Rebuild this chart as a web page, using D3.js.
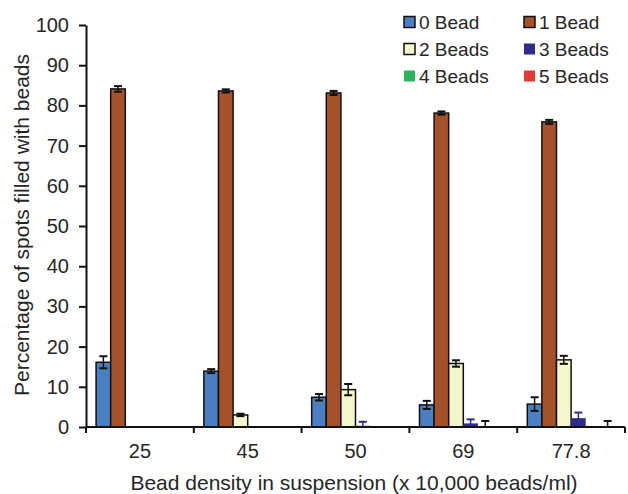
<!DOCTYPE html>
<html><head><meta charset="utf-8">
<script src="https://cdn.jsdelivr.net/npm/d3@7"></script>
<style>body{margin:0;background:#fff}svg{display:block}text{font-family:"Liberation Sans",Arial,sans-serif;fill:#262626}</style>
</head><body><svg id="c" width="628" height="494"></svg>
<script>
const categories = ["25","45","50","69","77.8"];
const seriesNames = ["0 Bead","1 Bead","2 Beads","3 Beads","4 Beads","5 Beads"];
const bead0 = [16.1, 13.9, 7.4, 5.5, 5.7];
const bead1 = [84.1, 83.6, 83.1, 78.1, 75.9];
const bead2 = [0, 3.0, 9.3, 15.8, 16.7];
const bead3 = [0, 0, 0.3, 0.9, 2.2];
const bead4 = [0, 0, 0, 0.1, 0];
const bead5 = [0, 0, 0, 0, 0.1];
const err0 = [1.5, 0.5, 0.8, 1.0, 1.7];
const err1 = [0.7, 0.4, 0.5, 0.4, 0.5];
const err2 = [null, 0.3, 1.4, 0.8, 1.0];
const err3 = [null, null, 1.0, 1.0, 1.4];
const err4 = [null, null, null, 1.4, null];
const err5 = [null, null, null, null, 1.4];
const yTicks = [0,10,20,30,40,50,60,70,80,90,100];
const colors = ["#4a7fc1","#a5522b","#f6f6cc","#2e2d8c","#2db35a","#e53935"];
const stroked = [true,true,true,false,false,false];
const errColors = ["#111","#111","#111","#2e2d8c","#111","#111"];

const values = [bead0,bead1,bead2,bead3,bead4,bead5];
const errs = [err0,err1,err2,err3,err4,err5];

const svg = d3.select("#c");
const x0 = d3.scaleBand().domain(categories).range([86, 625]).padding(0);
const x1 = d3.scaleBand().domain(d3.range(6)).range([0, x0.bandwidth()]).paddingInner(0).paddingOuter(0.69);
const y = d3.scaleLinear().domain([0,100]).range([427, 25]);

// bars
categories.forEach((c, ci) => {
  const g = svg.append("g").attr("transform", `translate(${x0(c)},0)`);
  values.forEach((vals, si) => {
    const v = vals[ci];
    if (v > 0) {
      g.append("rect")
        .attr("x", x1(si)).attr("width", x1.bandwidth())
        .attr("y", y(v)).attr("height", y(0) - y(v))
        .attr("fill", colors[si])
        .attr("stroke", stroked[si] ? "#111" : "none")
        .attr("stroke-width", 1.5);
    }
  });
  errs.forEach((es, si) => {
    const e = es[ci];
    if (e == null) return;
    const v = values[si][ci];
    const cx = x1(si) + x1.bandwidth()/2;
    const top = y(v + e), bot = y(Math.max(0, v - e));
    const ec = errColors[si];
    g.append("line").attr("x1", cx).attr("x2", cx).attr("y1", top).attr("y2", bot).attr("stroke", ec).attr("stroke-width", 1.5);
    g.append("line").attr("x1", cx-4).attr("x2", cx+4).attr("y1", top).attr("y2", top).attr("stroke", ec).attr("stroke-width", 2);
    if (v - e > 0) g.append("line").attr("x1", cx-4).attr("x2", cx+4).attr("y1", bot).attr("y2", bot).attr("stroke", ec).attr("stroke-width", 2);
  });
});

// y axis
const yAxis = svg.append("g").attr("transform","translate(86,0)")
  .call(d3.axisLeft(y).tickValues(yTicks).tickSize(7).tickPadding(10).tickSizeOuter(0));
yAxis.select(".domain").attr("stroke","#111").attr("stroke-width",2);
yAxis.selectAll(".tick line").attr("stroke","#111").attr("stroke-width",2);
yAxis.selectAll(".tick text").attr("font-size",20).style("font-family","'Liberation Sans',Arial,sans-serif").attr("fill","#262626");

// x axis with boundary ticks
const xg = svg.append("g").attr("transform","translate(0,427)");
xg.append("line").attr("x1",86).attr("x2",625).attr("y1",0).attr("y2",0).attr("stroke","#111").attr("stroke-width",2);
const bounds = categories.map(c => x0(c)).concat([x0(categories[categories.length-1]) + x0.bandwidth()]);
bounds.forEach(b => xg.append("line").attr("x1",b).attr("x2",b).attr("y1",0).attr("y2",6).attr("stroke","#111").attr("stroke-width",2));
categories.forEach(c => xg.append("text").attr("x", x0(c)+x0.bandwidth()/2).attr("y", 31).attr("text-anchor","middle").attr("font-size",20).text(c));

// axis titles
svg.append("text").attr("x",354).attr("y",490).attr("text-anchor","middle").attr("font-size",21).text("Bead density in suspension (x 10,000 beads/ml)");
svg.append("text").attr("transform","translate(29,225) rotate(-90)").attr("text-anchor","middle").attr("font-size",21).text("Percentage of spots filled with beads");

// legend
const legX = [404, 524], legY = [22, 49, 76];
seriesNames.forEach((n, i) => {
  const lx = legX[i % 2], ly = legY[Math.floor(i/2)];
  svg.append("rect").attr("x", lx).attr("y", ly-5.5).attr("width", 11).attr("height", 11)
    .attr("fill", colors[i]).attr("stroke", stroked[i] ? "#111" : "none").attr("stroke-width", 1.5);
  svg.append("text").attr("x", lx + 15).attr("y", ly + 7).attr("font-size", 19).text(n);
});
</script></body></html>
